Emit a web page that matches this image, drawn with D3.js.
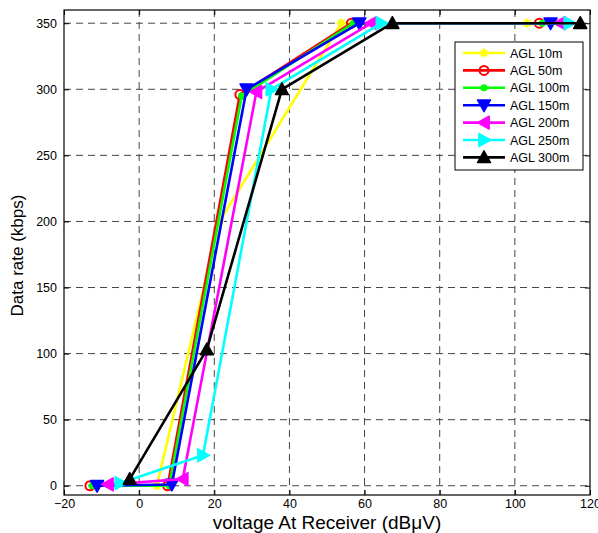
<!DOCTYPE html>
<html lang="en">
<head>
  <meta charset="UTF-8">
  <title>Data rate vs voltage</title>
  <script src="https://cdn.jsdelivr.net/npm/d3@7"></script>
  <style>
    body { margin: 0; background: #fff; }
    svg { font-family: "Liberation Sans", Arial, sans-serif; }
    .grid line { stroke: #444; stroke-dasharray: 7 5; stroke-width: 1; }
  </style>
</head>
<body>
  <div id="wrapper"></div>
  <script>
    // data: voltage (dBuV) and data rate (kbps) per antenna height
    const seriesNames = ["AGL 10m", "AGL 50m", "AGL 100m", "AGL 150m", "AGL 200m", "AGL 250m", "AGL 300m"];
    const seriesColors = ["#ffff00", "#ff0000", "#00ff00", "#0000ff", "#ff00ff", "#00ffff", "#000000"];
    const seriesMarkers = ["star", "circle", "dot", "down", "left", "right", "up"];

    const voltage10 = [4.7, 21.4, 53.8, 103.3];
    const rate10 = [0, 200, 350, 350];
    const voltage50 = [-13.1, 7.6, 26.8, 56.5, 106.5];
    const rate50 = [0, 0, 296, 350, 350];
    const voltage100 = [-12.5, 8.0, 27.3, 57.0, 107.3];
    const rate100 = [0, 0, 295, 350, 350];
    const voltage150 = [-11.2, 8.7, 28.6, 58.6, 109.5];
    const rate150 = [0, 1, 300, 350, 350];
    const voltage200 = [-8.3, 11.6, 31.2, 61.8, 112.0];
    const rate200 = [1, 5, 298, 350, 350];
    const voltage250 = [-5.0, 17.0, 35.2, 64.5, 114.5];
    const rate250 = [2, 23, 300, 350, 350];
    const voltage300 = [-2.5, 18.0, 38.0, 67.4, 117.4];
    const rate300 = [5, 103, 300, 350, 350];

    const xTicks = [-20, 0, 20, 40, 60, 80, 100, 120];
    const yTicks = [0, 50, 100, 150, 200, 250, 300, 350];

    const allVoltages = [voltage10, voltage50, voltage100, voltage150, voltage200, voltage250, voltage300];
    const allRates = [rate10, rate50, rate100, rate150, rate200, rate250, rate300];

    function drawChart() {
      //#region Dimensions
      let dimensions = {
        width: 598,
        height: 533,
        margin: { top: 10, right: 8, bottom: 38, left: 64 },
      };
      dimensions.boundedWidth = dimensions.width - dimensions.margin.left - dimensions.margin.right;
      dimensions.boundedHeight = dimensions.height - dimensions.margin.top - dimensions.margin.bottom;
      //#endregion

      //#region Canvas
      const wrapper = d3.select("#wrapper")
        .append("svg")
        .attr("width", dimensions.width)
        .attr("height", dimensions.height);

      const bounds = wrapper.append("g")
        .attr("transform", `translate(${dimensions.margin.left},${dimensions.margin.top})`);
      //#endregion

      //#region Scales
      const xScale = d3.scaleLinear()
        .domain([-20, 120])
        .range([0, dimensions.boundedWidth]);

      const yScale = d3.scaleLinear()
        .domain([-7, 360])
        .range([dimensions.boundedHeight, 0]);
      //#endregion

      //#region Grid
      const grid = bounds.append("g").attr("class", "grid");
      grid.selectAll(".vgrid")
        .data(xTicks.slice(1, -1))
        .join("line")
        .attr("x1", d => xScale(d)).attr("x2", d => xScale(d))
        .attr("y1", 0).attr("y2", dimensions.boundedHeight);
      grid.selectAll(".hgrid")
        .data(yTicks)
        .join("line")
        .attr("x1", 0).attr("x2", dimensions.boundedWidth)
        .attr("y1", d => yScale(d)).attr("y2", d => yScale(d));
      //#endregion

      //#region Axes
      const xAxis = bounds.append("g")
        .attr("transform", `translate(0,${dimensions.boundedHeight})`)
        .call(d3.axisBottom(xScale).tickValues(xTicks).tickSizeInner(-5).tickSizeOuter(0).tickPadding(4));
      const xAxisTop = bounds.append("g")
        .call(d3.axisTop(xScale).tickValues(xTicks).tickSizeInner(-5).tickSizeOuter(0).tickFormat(""));
      const yAxis = bounds.append("g")
        .call(d3.axisLeft(yScale).tickValues(yTicks).tickSizeInner(-5).tickSizeOuter(0).tickPadding(7));
      const yAxisRight = bounds.append("g")
        .attr("transform", `translate(${dimensions.boundedWidth},0)`)
        .call(d3.axisRight(yScale).tickValues(yTicks).tickSizeInner(-5).tickSizeOuter(0).tickFormat(""));

      [xAxis, xAxisTop, yAxis, yAxisRight].forEach(axis => {
        axis.select(".domain").remove();
        axis.selectAll("line").attr("stroke", "#000");
        axis.selectAll("text")
          .attr("fill", "#000")
          .style("font-size", "12.5px")
          .style("font-family", "'Liberation Sans', Arial, sans-serif");
      });

      bounds.append("rect")
        .attr("width", dimensions.boundedWidth)
        .attr("height", dimensions.boundedHeight)
        .attr("fill", "none")
        .attr("stroke", "#000")
        .attr("stroke-width", 1.2);

      wrapper.append("text")
        .attr("x", dimensions.margin.left + dimensions.boundedWidth / 2)
        .attr("y", 529)
        .attr("text-anchor", "middle")
        .style("font-size", "19px")
        .text("voltage At Receiver (dBμV)");

      wrapper.append("text")
        .attr("transform", `translate(23,${dimensions.margin.top + dimensions.boundedHeight / 2 + 3}) rotate(-90)`)
        .attr("text-anchor", "middle")
        .style("font-size", "17px")
        .text("Data rate (kbps)");
      //#endregion

      //#region Markers
      function drawMarker(g, type, color, x, y) {
        if (type == "star") {
          const s = 4.5;
          g.append("path")
            .attr("d", `M${x - s},${y}L${x + s},${y}M${x},${y - s}L${x},${y + s}` +
              `M${x - s * 0.7},${y - s * 0.7}L${x + s * 0.7},${y + s * 0.7}M${x - s * 0.7},${y + s * 0.7}L${x + s * 0.7},${y - s * 0.7}`)
            .attr("stroke", color).attr("stroke-width", 2).attr("fill", "none");
        } else if (type == "circle") {
          g.append("circle").attr("cx", x).attr("cy", y).attr("r", 4.5)
            .attr("stroke", color).attr("stroke-width", 2).attr("fill", "none");
        } else if (type == "dot") {
          g.append("circle").attr("cx", x).attr("cy", y).attr("r", 3.5).attr("fill", color);
        } else {
          const s = 6.5;
          let pts;
          if (type == "up") pts = [[x, y - s], [x + s, y + s * 0.8], [x - s, y + s * 0.8]];
          if (type == "down") pts = [[x, y + s], [x + s, y - s * 0.8], [x - s, y - s * 0.8]];
          if (type == "left") pts = [[x - s, y], [x + s * 0.8, y - s], [x + s * 0.8, y + s]];
          if (type == "right") pts = [[x + s, y], [x - s * 0.8, y - s], [x - s * 0.8, y + s]];
          g.append("path")
            .attr("d", "M" + pts.map(p => p.join(",")).join("L") + "Z")
            .attr("fill", color).attr("stroke", color).attr("stroke-width", 1.5)
            .attr("stroke-linejoin", "round");
        }
      }
      //#endregion

      //#region Lines
      const lineGenerator = d3.line()
        .x(d => xScale(d[0]))
        .y(d => yScale(d[1]));

      seriesNames.forEach((name, i) => {
        const points = allVoltages[i].map((v, j) => [v, allRates[i][j]]);
        const g = bounds.append("g");
        g.append("path")
          .attr("d", lineGenerator(points))
          .attr("fill", "none")
          .attr("stroke", seriesColors[i])
          .attr("stroke-width", 2.6)
          .attr("stroke-linejoin", "round");
        points.forEach(p => drawMarker(g, seriesMarkers[i], seriesColors[i], xScale(p[0]), yScale(p[1])));
      });
      //#endregion

      //#region Legend
      const legend = wrapper.append("g").attr("transform", "translate(455,42)");
      legend.append("rect")
        .attr("width", 128)
        .attr("height", 128)
        .attr("fill", "#fff")
        .attr("stroke", "#000")
        .attr("stroke-width", 1);

      seriesNames.forEach((name, i) => {
        const y = 11 + i * 17.4;
        const row = legend.append("g");
        row.append("line")
          .attr("x1", 8).attr("x2", 50)
          .attr("y1", y).attr("y2", y)
          .attr("stroke", seriesColors[i])
          .attr("stroke-width", 2.6);
        drawMarker(row, seriesMarkers[i], seriesColors[i], 29, y);
        row.append("text")
          .attr("x", 55)
          .attr("y", y + 4.5)
          .style("font-size", "12.5px")
          .text(name);
      });
      //#endregion
    }

    drawChart();
  </script>
</body>
</html>
